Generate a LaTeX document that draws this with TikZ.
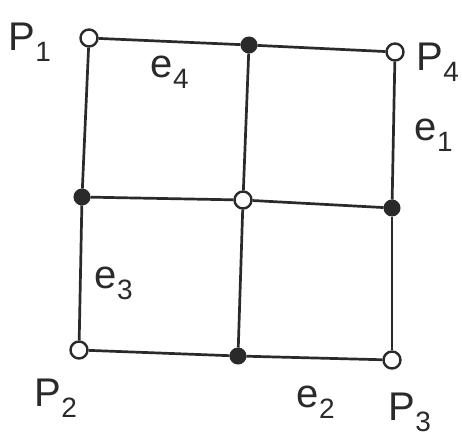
\documentclass[tikz,border=0pt]{standalone}
\usepackage{fontspec}
\setmainfont{Liberation Sans}
\begin{document}
\begin{tikzpicture}[x=1pt,y=-1pt,
  open/.style={circle,draw=ink,fill=white,line width=2.4pt,minimum size=17pt,inner sep=0pt},
  full/.style={circle,draw=ink,fill=ink,line width=1pt,minimum size=16pt,inner sep=0pt},
  edge/.style={draw=ink,line width=2.7pt},
  lbl/.style={text=ink,font=\fontsize{40}{40}\selectfont,inner sep=0pt}]
\definecolor{ink}{HTML}{2A2A2A}
\useasboundingbox (0,0) rectangle (462,436);
\node[open] (p1) at (89,38) {};
\node[full] (t)  at (249,45) {};
\node[open] (p4) at (395,52) {};
\node[full] (l)  at (82,197) {};
\node[open] (c)  at (243,200) {};
\node[full] (r)  at (392,208) {};
\node[open] (p2) at (79,350) {};
\node[full] (b)  at (238,356) {};
\node[open] (p3) at (392,360) {};
\draw[edge] (p1) -- (t);
\draw[edge] (t) -- (p4);
\draw[edge] (l) -- (c);
\draw[edge] (c) -- (r);
\draw[edge] (p2) -- (b);
\draw[edge] (b) -- (p3);
\draw[edge] (p1) -- (l);
\draw[edge] (l) -- (p2);
\draw[edge] (t) -- (c);
\draw[edge] (c) -- (b);
\draw[edge] (p4) -- (r);
\draw[edge] (r) -- (p3);
\node[lbl] (P1) at (30,42) {P\textsubscript{1}};
\node[lbl] (P4) at (438,62) {P\textsubscript{4}};
\node[lbl] (E4) at (170,72) {e\textsubscript{4}};
\node[lbl] (E1) at (434,135) {e\textsubscript{1}};
\node[lbl] (E3) at (114,283) {e\textsubscript{3}};
\node[lbl] (P2) at (56,398) {P\textsubscript{2}};
\node[lbl] (E2) at (316,402) {e\textsubscript{2}};
\node[lbl] (P3) at (410,412) {P\textsubscript{3}};
\end{tikzpicture}
\end{document}
